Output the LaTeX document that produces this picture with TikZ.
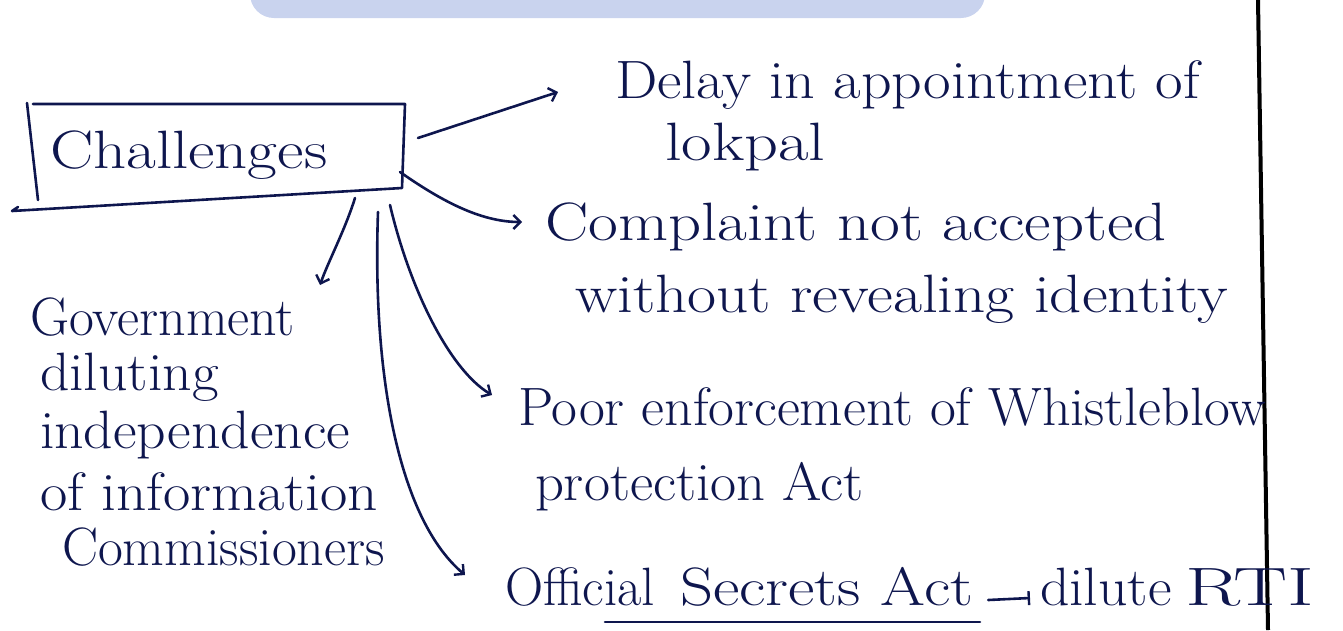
\documentclass[tikz,border=0pt]{standalone}
\usetikzlibrary{arrows.meta}
\definecolor{ink}{RGB}{14,22,78}
\definecolor{band}{RGB}{201,211,238}
\newcommand\hstretch[2]{\scalebox{#1}[1]{#2}}
\tikzset{
  txt/.style={anchor=base west, inner sep=0pt, outer sep=0pt, text=ink,
    font=\fontsize{54}{64}\selectfont},
  pen/.style={draw=ink, line width=2.6pt, line cap=round, line join=round},
  link/.style={pen, -{Straight Barb[length=7pt,width=14pt,line width=2.4pt]}},
}
\begin{document}
\begin{tikzpicture}[x=1pt,y=-1pt]
\useasboundingbox (0,0) rectangle (1343,630);
\clip (0,0) rectangle (1343,630);

% header band and page margin rule
\fill[band, rounded corners=24pt] (250,-40) rectangle (985,18);
\draw[black, line width=4pt] (1258,0) -- (1268,630);

% central box
\node[txt] (chal) at (50,168) {\hstretch{1.2}{Challenges}};
\draw[pen] (33,104) -- (405,104) -- (402,188) -- (12,211) -- (18,207);
\draw[pen] (27,103) -- (38,200);

% starting points on the box
\coordinate (s1) at (418,138);
\coordinate (s2) at (400,172);
\coordinate (s3) at (355,198);
\coordinate (s4) at (390,205);
\coordinate (s5) at (378,212);

% right-hand items
\node[txt] (delay) at (615,98) {\hstretch{1.11}{Delay in appointment of}};
\node[txt] (lokpal) at (665,160) {\hstretch{1.23}{lokpal}};
\node[txt] (compl) at (545,240) {\hstretch{1.2}{Complaint not accepted}};
\node[txt] (without) at (575,312) {\hstretch{1.17}{without revealing identity}};
\node[txt] (poor) at (518,425) {\hstretch{1.04}{Poor enforcement of Whistleblow}};
\node[txt] (prot) at (535,500) {\hstretch{1.05}{protection Act}};
\node[txt] (offic) at (505,605) {\hstretch{0.98}{Official}};
\node[txt] (secrets) at (680,605) {\hstretch{1.2}{Secrets Act}};
\node[txt] (dilute) at (1040,605) {\hstretch{1.07}{dilute}};
\node[txt] (rti) at (1185,605) {\hstretch{1.5}{RTI}};

% left-hand item
\node[txt] (gov) at (30,335) {Government};
\node[txt] (dil) at (40,390) {\hstretch{1.07}{diluting}};
\node[txt] (indep) at (40,448) {\hstretch{1.07}{independence}};
\node[txt] (info) at (40,510) {\hstretch{1.1}{of information}};
\node[txt] (comm) at (62,565) {Commissioners};

% connectors
\draw[link] (s1) -- ([shift={(-57,-6)}]delay.base west);
\draw[link] (s2) .. controls (440,200) and (480,222) .. ([shift={(-23,-18)}]compl.base west);
\draw[link] (s3) .. controls (345,230) and (328,262) .. ([shift={(290,-50)}]gov.base west);
\draw[link] (s4) .. controls (410,290) and (450,370) .. ([shift={(-26,-30)}]poor.base west);
\draw[link] (s5) .. controls (372,380) and (400,520) .. ([shift={(-40,-30)}]offic.base west);

% underline and short arrow on the last line
\draw[pen] ([shift={(-75,17)}]secrets.base west) -- ([shift={(300,17)}]secrets.base west);
\draw[pen, -{Bar[width=14pt,line width=2.4pt]}] ([shift={(15,-5)}]secrets.base east) -- ([shift={(-10,-7)}]dilute.base west);
\end{tikzpicture}
\end{document}
